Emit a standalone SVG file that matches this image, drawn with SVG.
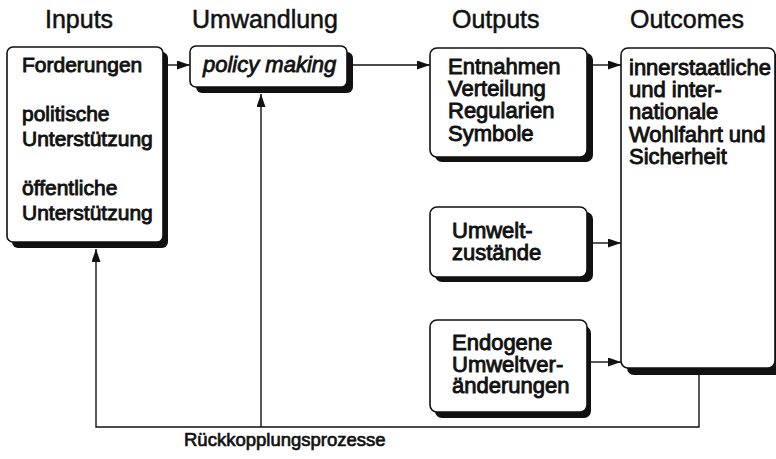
<svg xmlns="http://www.w3.org/2000/svg" width="776" height="459" viewBox="0 0 776 459">
<defs>
<style>
.title{font-family:"Liberation Sans",Arial,sans-serif;font-size:25px;fill:#111;stroke:#111;stroke-width:0.5}
.t{font-family:"Liberation Sans",Arial,sans-serif;font-size:21px;fill:#111;stroke:#111;stroke-width:0.9}
.t2{font-family:"Liberation Sans",Arial,sans-serif;font-size:22px;fill:#111;stroke:#111;stroke-width:0.9}
.it{font-family:"Liberation Sans",Arial,sans-serif;font-size:22px;font-style:italic;fill:#111;stroke:#111;stroke-width:0.8}
.lbl{font-family:"Liberation Sans",Arial,sans-serif;font-size:18.5px;fill:#111;stroke:#111;stroke-width:0.7}
.box{fill:#fff;stroke:#111;stroke-width:1.6}
.sh{fill:#111}
.ln{fill:none;stroke:#111;stroke-width:1.4}
</style>
<marker id="ah" markerWidth="13" markerHeight="9" refX="13" refY="4.5" orient="auto" markerUnits="userSpaceOnUse">
<path d="M0,0 L13,4.5 L0,9 Z" fill="#111"/>
</marker>
</defs>
<rect width="776" height="459" fill="#fff"/>

<g id="titles">
<text class="title" x="45" y="28">Inputs</text>
<text class="title" x="192" y="28">Umwandlung</text>
<text class="title" x="452" y="28">Outputs</text>
<text class="title" x="630" y="28">Outcomes</text>
</g>

<g id="connectors">
<line class="ln" x1="167" y1="65" x2="190" y2="65" marker-end="url(#ah)"/>
<line class="ln" x1="353" y1="65" x2="430" y2="65" marker-end="url(#ah)"/>
<line class="ln" x1="593" y1="65" x2="621" y2="65" marker-end="url(#ah)"/>
<line class="ln" x1="593" y1="243" x2="621" y2="243" marker-end="url(#ah)"/>
<line class="ln" x1="591" y1="362" x2="621" y2="362" marker-end="url(#ah)"/>
<polyline class="ln" points="699,374 699,427 96,427 96,249" marker-end="url(#ah)"/>
<line class="ln" x1="261" y1="427" x2="261" y2="94" marker-end="url(#ah)"/>
</g>

<g id="inputs">
<rect class="sh" x="12" y="52" width="156" height="196" rx="6"/>
<rect class="box" x="7" y="47" width="156" height="195" rx="6"/>
<text class="t" x="22" y="72">Forderungen</text>
<text class="t" x="22" y="121">politische</text>
<text class="t" x="22" y="146">Unterstützung</text>
<text class="t" x="22" y="195">öffentliche</text>
<text class="t" x="22" y="220">Unterstützung</text>
</g>

<g id="policy">
<rect class="sh" x="196" y="52" width="157" height="41" rx="6"/>
<rect class="box" x="190" y="46" width="157" height="41" rx="6"/>
<text class="it" x="203" y="72">policy making</text>
</g>

<g id="outputs1">
<rect class="sh" x="435" y="53" width="158" height="109" rx="7"/>
<rect class="box" x="430" y="48" width="157" height="109" rx="7"/>
<text class="t2" x="448" y="74">Entnahmen</text>
<text class="t2" x="448" y="96">Verteilung</text>
<text class="t2" x="448" y="118">Regularien</text>
<text class="t2" x="448" y="141">Symbole</text>
</g>

<g id="outputs2">
<rect class="sh" x="435" y="212" width="158" height="70" rx="7"/>
<rect class="box" x="430" y="207" width="157" height="70" rx="7"/>
<text class="t2" x="452" y="238">Umwelt-</text>
<text class="t2" x="452" y="260">zustände</text>
</g>

<g id="outputs3">
<rect class="sh" x="435" y="326" width="156" height="92" rx="7"/>
<rect class="box" x="430" y="320" width="157" height="92" rx="7"/>
<text class="t2" x="452" y="350">Endogene</text>
<text class="t2" x="452" y="372">Umweltver-</text>
<text class="t2" x="452" y="393">änderungen</text>
</g>

<g id="outcomes">
<rect class="sh" x="627" y="54" width="156" height="321" rx="7"/>
<rect class="box" x="621" y="48" width="154" height="320" rx="7"/>
<text class="t2" x="629" y="75">innerstaatliche</text>
<text class="t2" x="629" y="97">und inter-</text>
<text class="t2" x="629" y="119">nationale</text>
<text class="t2" x="629" y="142">Wohlfahrt und</text>
<text class="t2" x="629" y="164">Sicherheit</text>
</g>

<g id="feedback-label">
<text class="lbl" x="184" y="446">Rückkopplungsprozesse</text>
</g>
</svg>
